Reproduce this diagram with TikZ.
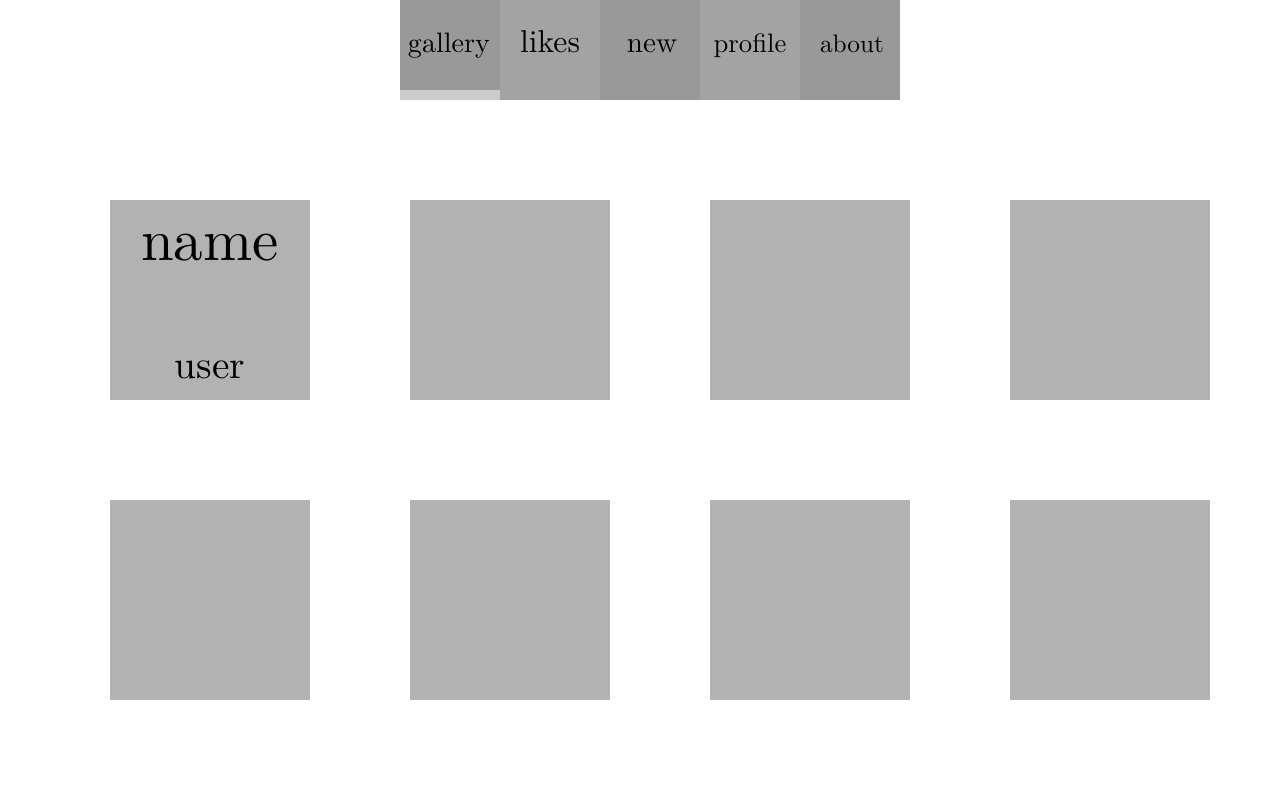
\documentclass[tikz,border=0pt]{standalone}
\usetikzlibrary{positioning}

\begin{document}
\begin{tikzpicture}[x=1cm, y=-1cm,
    tile/.style={fill=black!30, minimum size=2cm, inner sep=0pt, outer sep=0pt},
    tablabel/.style={anchor=base, inner sep=0pt}]
    % Canvas
    \useasboundingbox (0,0) rectangle (12.8,8);
    % Tabs
    \fill[black!40] (4,0) rectangle (5,0.9);
    \fill[black!20] (4,0.9) rectangle (5,1);
    \fill[black!36] (5,0) rectangle (6,1);
    \fill[black!40] (6,0) rectangle (7,1);
    \fill[black!36] (7,0) rectangle (8,1);
    \fill[black!40] (8,0) rectangle (9,1);
    % Tab labels
    \node[tablabel, scale=0.8] (gallery) at (4.49,0.53) {gallery};
    \node[tablabel, scale=0.9] (likes) at (5.5,0.53) {likes};
    \node[tablabel, scale=0.83] (new) at (6.52,0.53) {new};
    \node[tablabel, scale=0.76] (profile) at (7.5,0.53) {profile};
    \node[tablabel, scale=0.72] (about) at (8.52,0.53) {about};
    % Tiles
    \foreach \c in {0,...,3}
    {
        \foreach \r in {0,1}
        {
            \node[tile] (tile-\c-\r) at (2.1+3*\c, 3+3*\r) {};
        }
    }
    % Text on the first tile
    \node[tablabel, scale=1.68] (name) at (2.1,2.6) {name};
    \node[tablabel, scale=1.12] (user) at (2.1,3.78) {user};
\end{tikzpicture}
\end{document}
